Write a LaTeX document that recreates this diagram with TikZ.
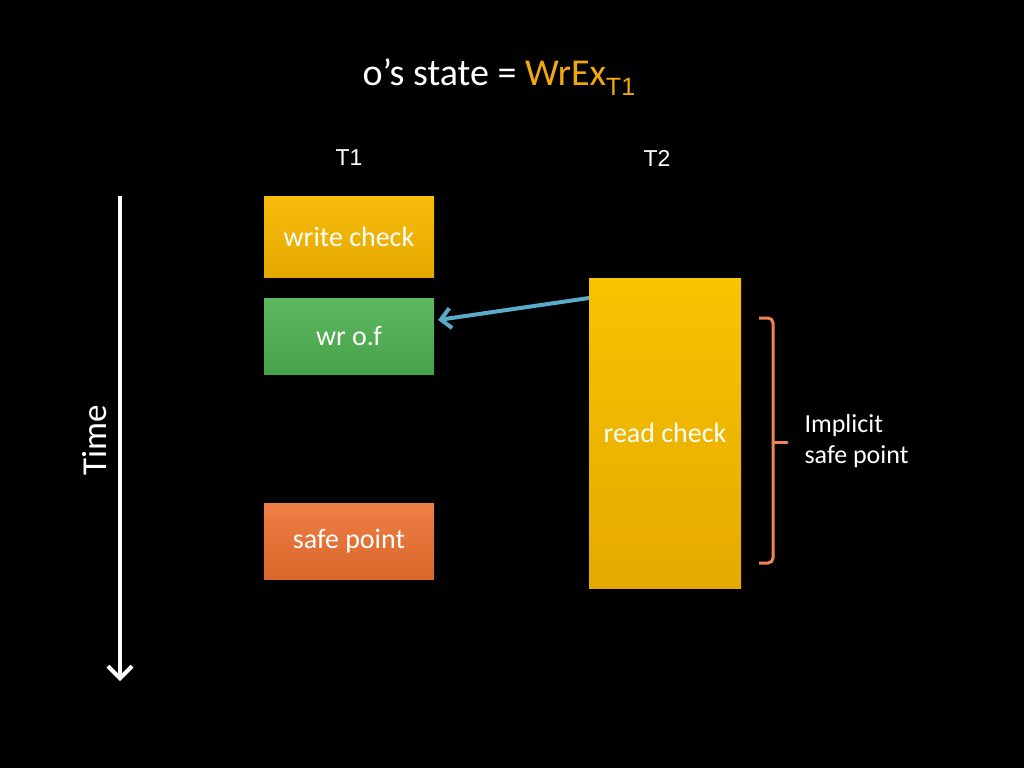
\documentclass[tikz,border=0pt]{standalone}
\usepackage{fontspec}
\setmainfont{Carlito}
\newfontfamily\arialfont{Liberation Sans}
\usetikzlibrary{arrows.meta}

\definecolor{wrgold}{HTML}{F0AA10}
\definecolor{boxgold}{HTML}{F8B800}
\definecolor{boxgreen}{HTML}{4CB04E}
\definecolor{boxred}{HTML}{EC7030}
\definecolor{arrowblue}{HTML}{5AAACB}
\definecolor{bracecol}{HTML}{EF8456}

\tikzset{
  opbox/.style={minimum width=170pt, minimum height=78pt, inner sep=0pt,
    text=white, font=\fontsize{28}{32}\selectfont},
  lbl/.style={text=white, inner sep=0pt},
}

\begin{document}
\begin{tikzpicture}[x=1pt, y=-1pt, line width=1pt]
  \fill[black] (0,0) rectangle (1024,768);
  \useasboundingbox (0,0) rectangle (1024,768);
  % title and threads
  \node[lbl, anchor=base west, font=\fontsize{38}{44}\selectfont] (title) at (362,85)
    {o’s state = \textcolor{wrgold}{WrEx\raisebox{-10pt}{\arialfont\fontsize{25}{28}\selectfont T1}}};
  \node[lbl, font=\arialfont\fontsize{23}{26}\selectfont] (T1) at (349,158) {T1};
  \node[lbl, font=\arialfont\fontsize{23}{26}\selectfont] (T2) at (657,158) {T2};
  % operations of T1
  \node[opbox, top color=boxgold!95!white, bottom color=boxgold!92!black, minimum height=81pt] (wcheck) at (349,236.5) {write check};
  \node[opbox, top color=boxgreen!90!white, bottom color=boxgreen!92!black, minimum height=76pt] (wrof) at (349,336) {wr o.f};
  \node[opbox, top color=boxred!90!white, bottom color=boxred!92!black, minimum height=76pt] (safe) at (349,541) {safe point};
  % operation of T2
  \node[opbox, top color=boxgold!85!yellow, bottom color=boxgold!92!black, minimum width=152pt, minimum height=310pt] (rcheck) at (665,433) {read check};
  \coordinate (src) at (589,298);
  \coordinate (dst) at (438,320);
  \draw[arrowblue, line width=4pt, -{Straight Barb[length=10pt, width=20pt, line width=4pt]}] (src) -- (dst);
  % brace
  \coordinate (btop) at (759,318);
  \coordinate (btip) at (787,442);
  \coordinate (bbot) at (759,563);
  \draw[bracecol, line width=3pt, rounded corners=5pt] (btop) -- (773,318) -- (773,563) -- (bbot);
  \draw[bracecol, line width=3pt, line cap=round] (773,442) -- (btip);
  \node[lbl, anchor=west, align=left, font=\fontsize{26}{31}\selectfont] (implicit) at (804,441) {Implicit\\safe point};
  % time axis
  \coordinate (tstart) at (120,196);
  \coordinate (tend) at (120,681);
  \draw[white, line width=4pt, -{Straight Barb[length=12pt, width=24pt, line width=4pt]}] (tstart) -- (tend);
  \node[lbl, rotate=90, font=\fontsize{35}{40}\selectfont] (time) at (95,440) {Time};
\end{tikzpicture}
\end{document}
